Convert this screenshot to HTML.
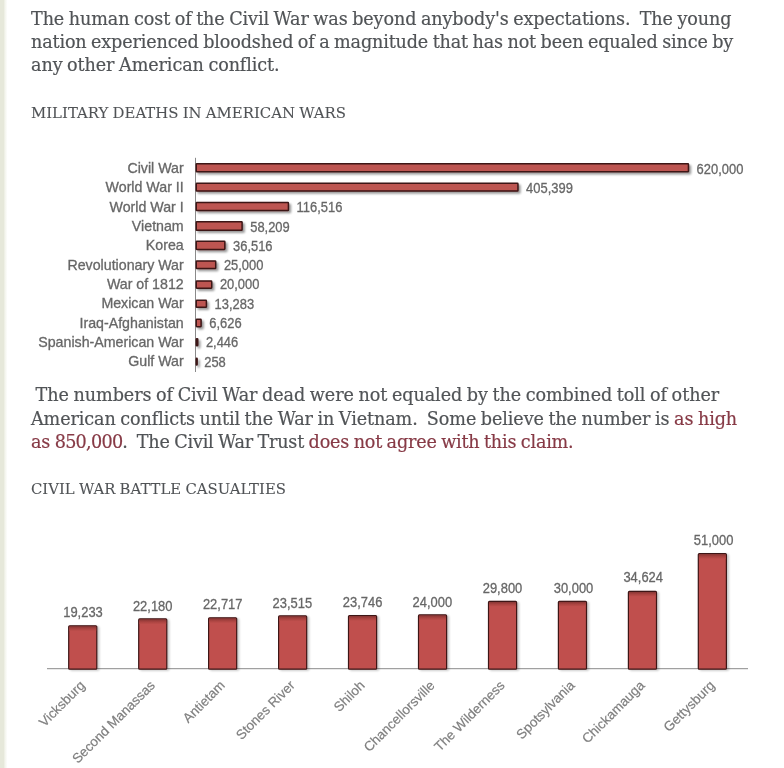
<!DOCTYPE html>
<html lang="en">
<head>
<meta charset="utf-8">
<title>Civil War Casualties</title>
<style>
html,body{margin:0;padding:0;background:#fff;}
body{width:784px;height:768px;position:relative;overflow:hidden;font-family:"DejaVu Serif", "Liberation Serif", serif;color:#515457;-webkit-text-stroke:0.2px currentColor;}
.edge{position:absolute;left:0;top:0;width:8px;height:768px;background:linear-gradient(to right,#e6e8da 0,#e6e8da 3.5px,#f3f4ec 5px,#fff 7.5px);}
p,h2{margin:0;padding:0;font-weight:normal;}
.ln{position:absolute;left:31px;white-space:pre;font-size:17.6px;line-height:24px;height:24px;letter-spacing:-0.02px;word-spacing:-0.9px;transform-origin:0 0;}
.hd{position:absolute;left:31px;white-space:pre;color:#505356;-webkit-text-stroke:0.1px currentColor;font-size:15.5px;line-height:20px;height:20px;letter-spacing:0px;word-spacing:-0.5px;transform-origin:0 0;}
a{color:#873a46;text-decoration:none;}
.n{letter-spacing:-0.72px;}
svg{position:absolute;left:0;top:0;}
svg text{font-family:"Liberation Sans", sans-serif;fill:#666666;stroke:#6a6a6a;stroke-width:0.3px;}
svg text.r{fill:#7e7e7e;stroke:#828282;stroke-width:0.2px;}

</style>
</head>
<body>
<div class="edge"></div>
<p class="ln" style="top:0;transform:translate(0,6.65px) rotate(0.001deg);letter-spacing:-0.106px">The human cost of the Civil War was beyond anybody's expectations.  The young</p>
<p class="ln" style="top:0;transform:translate(0,30.05px) rotate(0.001deg);letter-spacing:-0.152px">nation experienced bloodshed of a magnitude that has not been equaled since by</p>
<p class="ln" style="top:0;transform:translate(0,53.20px) rotate(0.001deg);letter-spacing:-0.094px">any other American conflict.</p>
<h2 class="hd" style="top:0;transform:translate(0,102.50px) rotate(0.001deg) scale(0.9605,1)">MILITARY DEATHS IN AMERICAN WARS</h2>
<p class="ln" style="top:0;transform:translate(0,382.75px) rotate(0.001deg);letter-spacing:-0.071px"> The numbers of Civil War dead were not equaled by the combined toll of other</p>
<p class="ln" style="top:0;transform:translate(0,406.55px) rotate(0.001deg);letter-spacing:-0.098px">American conflicts until the War in Vietnam.  Some believe the number is <a>as high</a></p>
<p class="ln" style="top:0;transform:translate(0,429.60px) rotate(0.001deg);letter-spacing:-0.188px"><a>as <span class="n">850,000</span></a>.  The Civil War Trust <a>does not agree with this claim.</a></p>
<h2 class="hd" style="top:0;transform:translate(0,479.10px) rotate(0.001deg) scale(0.958,1)">CIVIL WAR BATTLE CASUALTIES</h2>
<svg width="784" height="768" viewBox="0 0 784 768">
<defs><linearGradient id="g2" gradientUnits="userSpaceOnUse" x1="0" y1="0" x2="0" y2="5"><stop offset="0" stop-color="#7e3230"/><stop offset="0.5" stop-color="#a8423f"/><stop offset="1" stop-color="#c0504d"/></linearGradient><filter id="sh" x="-20%" y="-60%" width="140%" height="240%"><feGaussianBlur in="SourceAlpha" stdDeviation="1.2"/><feOffset dx="1.5" dy="1.8"/><feComponentTransfer><feFuncA type="linear" slope="0.4"/></feComponentTransfer><feMerge><feMergeNode/><feMergeNode in="SourceGraphic"/></feMerge></filter><filter id="sh2" x="-30%" y="-20%" width="160%" height="140%"><feGaussianBlur in="SourceAlpha" stdDeviation="1.3"/><feOffset dx="1.6" dy="1.2"/><feComponentTransfer><feFuncA type="linear" slope="0.22"/></feComponentTransfer><feMerge><feMergeNode/><feMergeNode in="SourceGraphic"/></feMerge></filter></defs>
<line x1="195.5" y1="157.8" x2="195.5" y2="372" stroke="#8a8a8a" stroke-width="1"/>
<g filter="url(#sh)" fill="#bd5551" stroke="#3c1515" stroke-width="1.5">
<rect x="196.25" y="163.75" width="492.20" height="8.10" rx="0.6"/>
<rect x="196.25" y="183.35" width="321.70" height="7.70" rx="0.6"/>
<rect x="196.25" y="202.55" width="92.17" height="8.00" rx="0.6"/>
<rect x="196.25" y="221.65" width="45.85" height="8.70" rx="0.6"/>
<rect x="196.25" y="241.25" width="28.61" height="8.20" rx="0.6"/>
<rect x="196.25" y="260.95" width="19.46" height="7.60" rx="0.6"/>
<rect x="196.25" y="281.05" width="15.49" height="7.10" rx="0.6"/>
<rect x="196.25" y="300.35" width="10.15" height="7.00" rx="0.6"/>
<rect x="196.25" y="319.35" width="4.86" height="7.30" rx="0.6"/>
<rect x="196.25" y="338.85" width="1.54" height="7.00" rx="0.6"/>
<rect x="196.25" y="358.35" width="0.90" height="6.70" rx="0.6"/>
</g>
<text font-size="14.0" text-anchor="end" transform="translate(183.7,172.80) scale(1.015,1)">Civil War</text>
<text font-size="14.3" transform="translate(696.6,173.70) scale(0.905,1)">620,000</text>
<text font-size="14.0" text-anchor="end" transform="translate(183.7,192.15) scale(1.015,1)">World War II</text>
<text font-size="14.3" transform="translate(526.1,192.98) scale(0.905,1)">405,399</text>
<text font-size="14.0" text-anchor="end" transform="translate(183.7,211.50) scale(1.015,1)">World War I</text>
<text font-size="14.3" transform="translate(296.6,212.26) scale(0.905,1)">116,516</text>
<text font-size="14.0" text-anchor="end" transform="translate(183.7,230.85) scale(1.015,1)">Vietnam</text>
<text font-size="14.3" transform="translate(250.2,231.54) scale(0.905,1)">58,209</text>
<text font-size="14.0" text-anchor="end" transform="translate(183.7,250.20) scale(1.015,1)">Korea</text>
<text font-size="14.3" transform="translate(233.0,250.82) scale(0.905,1)">36,516</text>
<text font-size="14.0" text-anchor="end" transform="translate(183.7,269.55) scale(1.015,1)">Revolutionary War</text>
<text font-size="14.3" transform="translate(223.9,270.10) scale(0.905,1)">25,000</text>
<text font-size="14.0" text-anchor="end" transform="translate(183.7,288.90) scale(1.015,1)">War of 1812</text>
<text font-size="14.3" transform="translate(219.9,289.38) scale(0.905,1)">20,000</text>
<text font-size="14.0" text-anchor="end" transform="translate(183.7,308.25) scale(1.015,1)">Mexican War</text>
<text font-size="14.3" transform="translate(214.6,308.66) scale(0.905,1)">13,283</text>
<text font-size="14.0" text-anchor="end" transform="translate(183.7,327.60) scale(1.015,1)">Iraq-Afghanistan</text>
<text font-size="14.3" transform="translate(209.3,327.94) scale(0.905,1)">6,626</text>
<text font-size="14.0" text-anchor="end" transform="translate(183.7,346.95) scale(1.015,1)">Spanish-American War</text>
<text font-size="14.3" transform="translate(205.9,347.22) scale(0.905,1)">2,446</text>
<text font-size="14.0" text-anchor="end" transform="translate(183.7,366.30) scale(1.015,1)">Gulf War</text>
<text font-size="14.3" transform="translate(204.2,366.50) scale(0.905,1)">258</text>
<line x1="47" y1="668.7" x2="748" y2="668.7" stroke="#8a8a8a" stroke-width="1"/>
<g filter="url(#sh2)" fill="#c0504d" stroke="#3c1515" stroke-width="1.2">
<rect x="68.7" y="625.8" width="28.1" height="43.4" rx="1"/>
<rect x="138.7" y="618.9" width="28.1" height="50.3" rx="1"/>
<rect x="208.6" y="617.8" width="28.1" height="51.4" rx="1"/>
<rect x="278.6" y="615.9" width="28.1" height="53.3" rx="1"/>
<rect x="348.5" y="615.6" width="28.1" height="53.6" rx="1"/>
<rect x="418.5" y="614.9" width="28.1" height="54.3" rx="1"/>
<rect x="488.5" y="601.4" width="28.1" height="67.8" rx="1"/>
<rect x="558.4" y="601.3" width="28.1" height="67.9" rx="1"/>
<rect x="628.4" y="591.4" width="28.1" height="77.8" rx="1"/>
<rect x="698.3" y="553.7" width="28.1" height="115.5" rx="1"/>
</g>
<rect x="69.3" y="0.0" width="26.9" height="4.5" fill="url(#g2)" transform="translate(0,626.4)" opacity="0.85"/>
<rect x="139.3" y="0.0" width="26.9" height="4.5" fill="url(#g2)" transform="translate(0,619.5)" opacity="0.85"/>
<rect x="209.2" y="0.0" width="26.9" height="4.5" fill="url(#g2)" transform="translate(0,618.4)" opacity="0.85"/>
<rect x="279.2" y="0.0" width="26.9" height="4.5" fill="url(#g2)" transform="translate(0,616.5)" opacity="0.85"/>
<rect x="349.1" y="0.0" width="26.9" height="4.5" fill="url(#g2)" transform="translate(0,616.2)" opacity="0.85"/>
<rect x="419.1" y="0.0" width="26.9" height="4.5" fill="url(#g2)" transform="translate(0,615.5)" opacity="0.85"/>
<rect x="489.1" y="0.0" width="26.9" height="4.5" fill="url(#g2)" transform="translate(0,602.0)" opacity="0.85"/>
<rect x="559.0" y="0.0" width="26.9" height="4.5" fill="url(#g2)" transform="translate(0,601.9)" opacity="0.85"/>
<rect x="629.0" y="0.0" width="26.9" height="4.5" fill="url(#g2)" transform="translate(0,592.0)" opacity="0.85"/>
<rect x="698.9" y="0.0" width="26.9" height="4.5" fill="url(#g2)" transform="translate(0,554.3)" opacity="0.85"/>
<text font-size="14.3" text-anchor="middle" transform="translate(83.0,617.3) scale(0.905,1)">19,233</text>
<text class="r" font-size="13.4" text-anchor="end" transform="translate(85.8,686.2) rotate(-45)">Vicksburg</text>
<text font-size="14.3" text-anchor="middle" transform="translate(152.7,610.6) scale(0.905,1)">22,180</text>
<text class="r" font-size="13.4" text-anchor="end" transform="translate(155.7,686.2) rotate(-45)">Second Manassas</text>
<text font-size="14.3" text-anchor="middle" transform="translate(222.7,609.4) scale(0.905,1)">22,717</text>
<text class="r" font-size="13.4" text-anchor="end" transform="translate(225.7,686.2) rotate(-45)">Antietam</text>
<text font-size="14.3" text-anchor="middle" transform="translate(292.4,607.6) scale(0.905,1)">23,515</text>
<text class="r" font-size="13.4" text-anchor="end" transform="translate(295.6,686.2) rotate(-45)">Stones River</text>
<text font-size="14.3" text-anchor="middle" transform="translate(362.6,607.0) scale(0.905,1)">23,746</text>
<text class="r" font-size="13.4" text-anchor="end" transform="translate(365.6,686.2) rotate(-45)">Shiloh</text>
<text font-size="14.3" text-anchor="middle" transform="translate(432.3,606.5) scale(0.905,1)">24,000</text>
<text class="r" font-size="13.4" text-anchor="end" transform="translate(435.5,686.2) rotate(-45)">Chancellorsville</text>
<text font-size="14.3" text-anchor="middle" transform="translate(502.5,593.3) scale(0.905,1)">29,800</text>
<text class="r" font-size="13.4" text-anchor="end" transform="translate(505.5,686.2) rotate(-45)">The Wilderness</text>
<text font-size="14.3" text-anchor="middle" transform="translate(573.5,592.8) scale(0.905,1)">30,000</text>
<text class="r" font-size="13.4" text-anchor="end" transform="translate(575.5,686.2) rotate(-45)">Spotsylvania</text>
<text font-size="14.3" text-anchor="middle" transform="translate(643.2,582.3) scale(0.905,1)">34,624</text>
<text class="r" font-size="13.4" text-anchor="end" transform="translate(645.4,686.2) rotate(-45)">Chickamauga</text>
<text font-size="14.3" text-anchor="middle" transform="translate(713.6,545.0) scale(0.905,1)">51,000</text>
<text class="r" font-size="13.4" text-anchor="end" transform="translate(715.4,686.2) rotate(-45)">Gettysburg</text>
</svg>
</body>
</html>
